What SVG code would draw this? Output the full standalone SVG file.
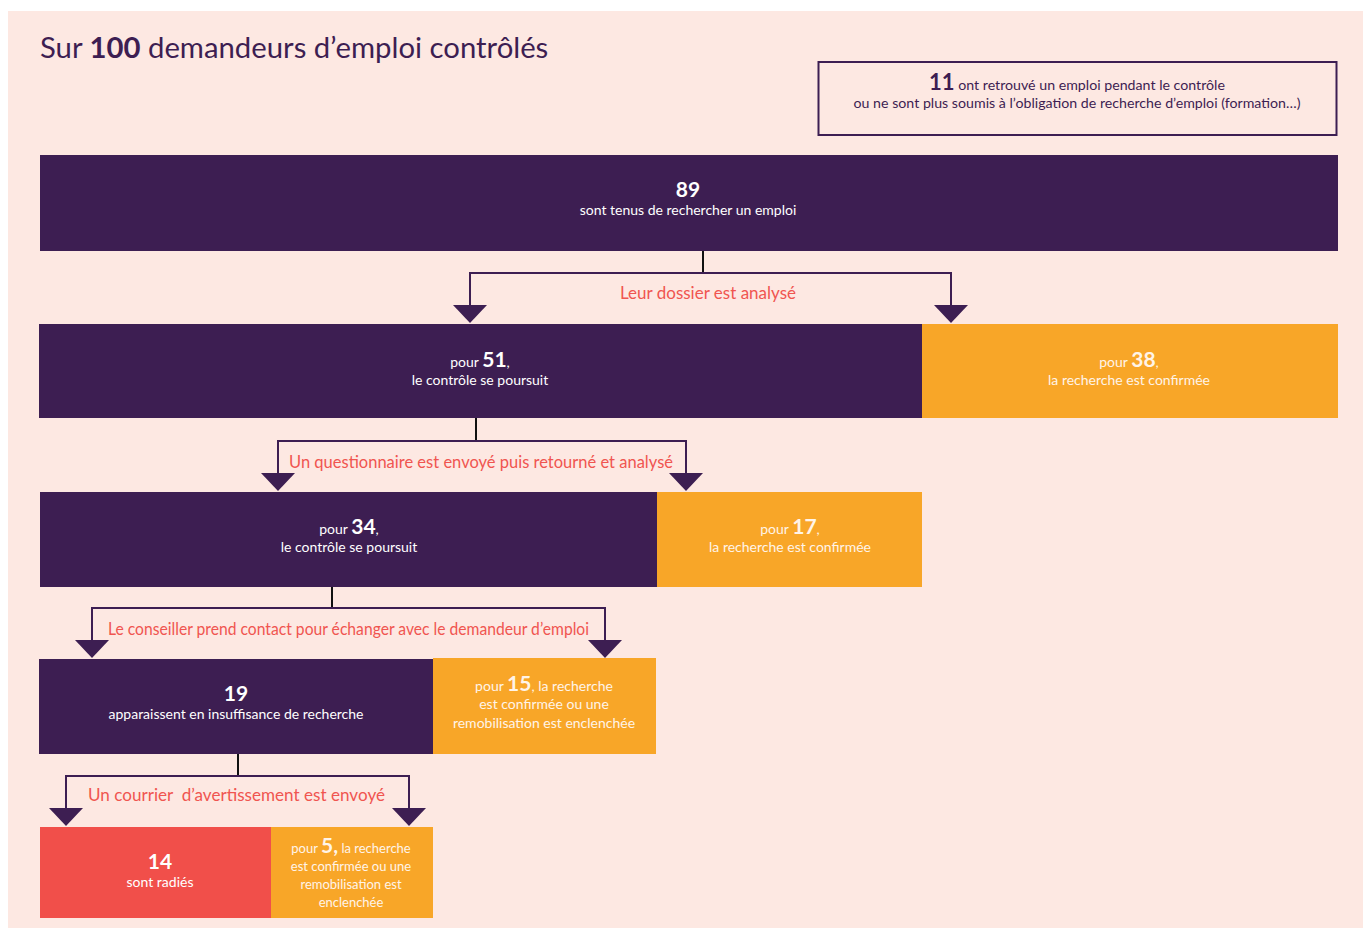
<svg xmlns="http://www.w3.org/2000/svg" width="1363" height="928" viewBox="0 0 1363 928">
<defs>
<style>
text{font-family:Lato,"Open Sans","Liberation Sans",sans-serif}
.p{fill:#3d1e52}
.o{fill:#f8a628}
.r{fill:#f14f4a}
.w{fill:#ffffff;font-size:14px;text-anchor:middle}
.wo{fill:#fff4e8;font-size:14px;text-anchor:middle}
.sm{font-size:13px}
.n{font-size:21px;font-weight:bold}
.lab{fill:#f05550;font-size:16.5px;text-anchor:middle}
.ln{fill:none;stroke:#3d1e52;stroke-width:2}
.st{fill:none;stroke:#111;stroke-width:2}
</style>
</defs>
<rect x="8" y="11" width="1355" height="917" fill="#fde8e2"/>
<g id="title">
<text x="40" y="58" style="font-size:29.3px;fill:#3d1e52">Sur <tspan font-weight="bold">100</tspan> demandeurs d’emploi contrôlés</text>
</g>
<g id="n11">
<rect x="818.5" y="62" width="518" height="73" fill="none" stroke="#3d1e52" stroke-width="2"/>
<text x="1077" y="90" text-anchor="middle" style="font-size:14.2px;fill:#3d1e52"><tspan style="font-size:22px;font-weight:bold">11</tspan> ont retrouvé un emploi pendant le contrôle</text>
<text x="1077" y="108" text-anchor="middle" style="font-size:14.2px;fill:#3d1e52">ou ne sont plus soumis à l’obligation de recherche d’emploi (formation…)</text>
</g>
<g id="n89">
<rect class="p" x="40" y="155" width="1298" height="96"/>
<text class="w" x="688" y="197"><tspan class="n">89</tspan></text>
<text class="w" x="688" y="215">sont tenus de rechercher un emploi</text>
</g>
<g id="n51">
<rect class="p" x="39" y="324" width="883" height="94"/>
<text class="w" x="480" y="367">pour <tspan class="n">51</tspan>,</text>
<text class="w" x="480" y="385">le contrôle se poursuit</text>
</g>
<g id="n38">
<rect class="o" x="922" y="324" width="416" height="94"/>
<text class="wo" x="1129" y="367">pour <tspan class="n">38</tspan>,</text>
<text class="wo" x="1129" y="385">la recherche est confirmée</text>
</g>
<g id="n34">
<rect class="p" x="40" y="492" width="617" height="95"/>
<text class="w" x="349" y="534">pour <tspan class="n">34</tspan>,</text>
<text class="w" x="349" y="552">le contrôle se poursuit</text>
</g>
<g id="n17">
<rect class="o" x="657" y="492" width="265" height="95"/>
<text class="wo" x="790" y="534">pour <tspan class="n">17</tspan>,</text>
<text class="wo" x="790" y="552">la recherche est confirmée</text>
</g>
<g id="n19">
<rect class="p" x="39" y="659" width="394" height="95"/>
<text class="w" x="236" y="701"><tspan class="n">19</tspan></text>
<text class="w" x="236" y="719">apparaissent en insuffisance de recherche</text>
</g>
<g id="n15">
<rect class="o" x="433" y="658" width="223" height="96"/>
<text class="wo" x="544" y="691">pour <tspan class="n">15</tspan>, la recherche</text>
<text class="wo" x="544" y="709">est confirmée ou une</text>
<text class="wo" x="544" y="728">remobilisation est enclenchée</text>
</g>
<g id="n14">
<rect class="r" x="40" y="827" width="231" height="91"/>
<text class="w" x="160" y="869"><tspan class="n">14</tspan></text>
<text class="w" x="160" y="887">sont radiés</text>
</g>
<g id="n5">
<rect class="o" x="271" y="827" width="162" height="91"/>
<text class="wo sm" x="351" y="853">pour <tspan class="n">5,</tspan> la recherche</text>
<text class="wo sm" x="351" y="871">est confirmée ou une</text>
<text class="wo sm" x="351" y="889">remobilisation est</text>
<text class="wo sm" x="351" y="907">enclenchée</text>
</g>
<g id="connectors">
<line class="st" x1="703" y1="251" x2="703" y2="273"/>
<path class="ln" d="M470,305 V273 H951 V305"/>
<path d="M453,305 H487 L470,323 Z" class="p"/>
<path d="M934,305 H968 L951,323 Z" class="p"/>
<text class="lab" x="708" y="299" textLength="176" lengthAdjust="spacingAndGlyphs">Leur dossier est analysé</text>

<line class="st" x1="476" y1="418" x2="476" y2="441"/>
<path class="ln" d="M278,473 V441 H686 V473"/>
<path d="M261,473 H295 L278,491 Z" class="p"/>
<path d="M669,473 H703 L686,491 Z" class="p"/>
<text class="lab" x="481" y="468" textLength="384" lengthAdjust="spacingAndGlyphs">Un questionnaire est envoyé puis retourné et analysé</text>

<line class="st" x1="332" y1="587" x2="332" y2="608"/>
<path class="ln" d="M92,640 V608 H605 V640"/>
<path d="M75,640 H109 L92,658 Z" class="p"/>
<path d="M588,640 H622 L605,658 Z" class="p"/>
<text class="lab" x="348.5" y="635" textLength="481" lengthAdjust="spacingAndGlyphs">Le conseiller prend contact pour échanger avec le demandeur d’emploi</text>

<line class="st" x1="238" y1="754" x2="238" y2="776"/>
<path class="ln" d="M66,808 V776 H409 V808"/>
<path d="M49,808 H83 L66,826 Z" class="p"/>
<path d="M392,808 H426 L409,826 Z" class="p"/>
<text class="lab" x="236.5" y="801" xml:space="preserve" textLength="297" lengthAdjust="spacingAndGlyphs">Un courrier  d’avertissement est envoyé</text>
</g>
</svg>
